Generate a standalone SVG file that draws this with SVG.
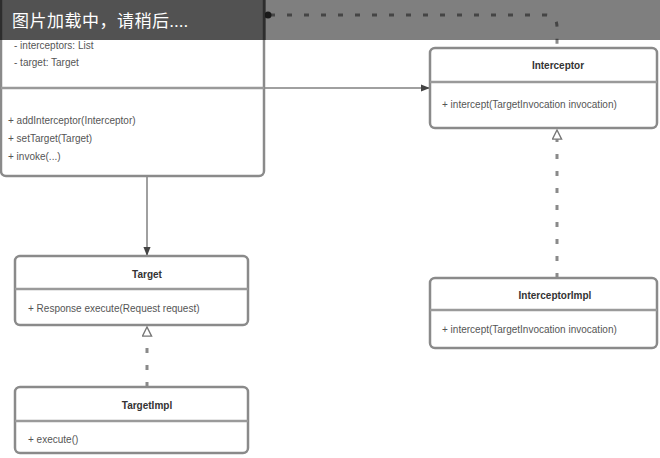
<svg xmlns="http://www.w3.org/2000/svg" width="660" height="458" viewBox="0 0 660 458">
  <style>
    .box { fill: #ffffff; stroke: #8a8a8a; stroke-width: 2.5; }
    .sep { stroke: #9a9a9a; stroke-width: 2.5; }
    .title { font-family: "Liberation Sans", Arial, sans-serif; font-size: 10px; font-weight: bold; fill: #333; text-anchor: middle; }
    .member { font-family: "Liberation Sans", Arial, sans-serif; font-size: 10px; fill: #555; }
    .line { fill: none; stroke: #a0a0a0; stroke-width: 2; }
    .dash { fill: none; stroke: #8a8a8a; stroke-width: 3; stroke-dasharray: 5 12; }
    .overlay-text { font-family: "Liberation Serif", "Noto Sans CJK SC", serif; font-size: 17px; fill: #ffffff; letter-spacing: 0.5px; }
  </style>
  <defs>
    <marker id="arrow" viewBox="0 0 10 10" refX="9" refY="5" markerWidth="9" markerHeight="9" orient="auto" markerUnits="userSpaceOnUse">
      <path d="M0,1 L10,5 L0,9 z" fill="#444"/>
    </marker>
    <marker id="realize" viewBox="0 0 12 12" refX="11" refY="6" markerWidth="11" markerHeight="11" orient="auto" markerUnits="userSpaceOnUse">
      <path d="M1,1 L11,6 L1,11 z" fill="#fff" stroke="#777" stroke-width="1.5"/>
    </marker>
  </defs>

  <rect width="660" height="458" fill="#ffffff"/>

  <!-- connectors -->
  <g id="connectors">
    <path class="line" d="M264,88 L429,88" marker-end="url(#arrow)"/>
    <path class="dash" d="M270,15 L545,15 Q557,15 557,27 L557,47"/>
    <circle cx="268" cy="15" r="3.5" fill="#333"/>
    <path class="line" d="M147,176 L147,255" marker-end="url(#arrow)"/>
    <path class="dash" d="M557,278 L557,130" marker-end="url(#realize)"/>
    <path class="dash" d="M147,387 L147,327" marker-end="url(#realize)"/>
  </g>

  <!-- chain class: fields and methods -->
  <g id="chain">
    <rect class="box" x="1" y="-20" width="263" height="196" rx="5"/>
    <text class="member" x="14" y="49">- interceptors: List</text>
    <text class="member" x="14" y="66">- target: Target</text>
    <line class="sep" x1="1" y1="88" x2="264" y2="88"/>
    <text class="member" x="8" y="124">+ addInterceptor(Interceptor)</text>
    <text class="member" x="8" y="142">+ setTarget(Target)</text>
    <text class="member" x="8" y="160">+ invoke(...)</text>
  </g>

  <g id="interceptor">
    <rect class="box" x="430" y="48" width="227" height="80" rx="5"/>
    <text class="title" x="558" y="69">Interceptor</text>
    <line class="sep" x1="430" y1="82" x2="657" y2="82"/>
    <text class="member" x="442" y="108">+ intercept(TargetInvocation invocation)</text>
  </g>

  <g id="interceptor-impl">
    <rect class="box" x="430" y="278" width="227" height="70" rx="5"/>
    <text class="title" x="555" y="299">InterceptorImpl</text>
    <line class="sep" x1="430" y1="310" x2="657" y2="310"/>
    <text class="member" x="442" y="333">+ intercept(TargetInvocation invocation)</text>
  </g>

  <g id="target">
    <rect class="box" x="15" y="256" width="233" height="69" rx="5"/>
    <text class="title" x="147" y="278">Target</text>
    <line class="sep" x1="15" y1="289" x2="248" y2="289"/>
    <text class="member" x="28" y="312">+ Response execute(Request request)</text>
  </g>

  <g id="target-impl">
    <rect class="box" x="15" y="387" width="233" height="66" rx="5"/>
    <text class="title" x="147" y="409">TargetImpl</text>
    <line class="sep" x1="15" y1="421" x2="248" y2="421"/>
    <text class="member" x="28" y="443">+ execute()</text>
  </g>

  <!-- loading banner across the top -->
  <g id="banner">
    <rect x="0" y="0" width="660" height="40" fill="#000" fill-opacity="0.5"/>
    <rect x="0" y="0" width="266" height="40" fill="#000" fill-opacity="0.35"/>
    <text class="overlay-text" x="12" y="27">图片加载中，请稍后....</text>
  </g>
</svg>
